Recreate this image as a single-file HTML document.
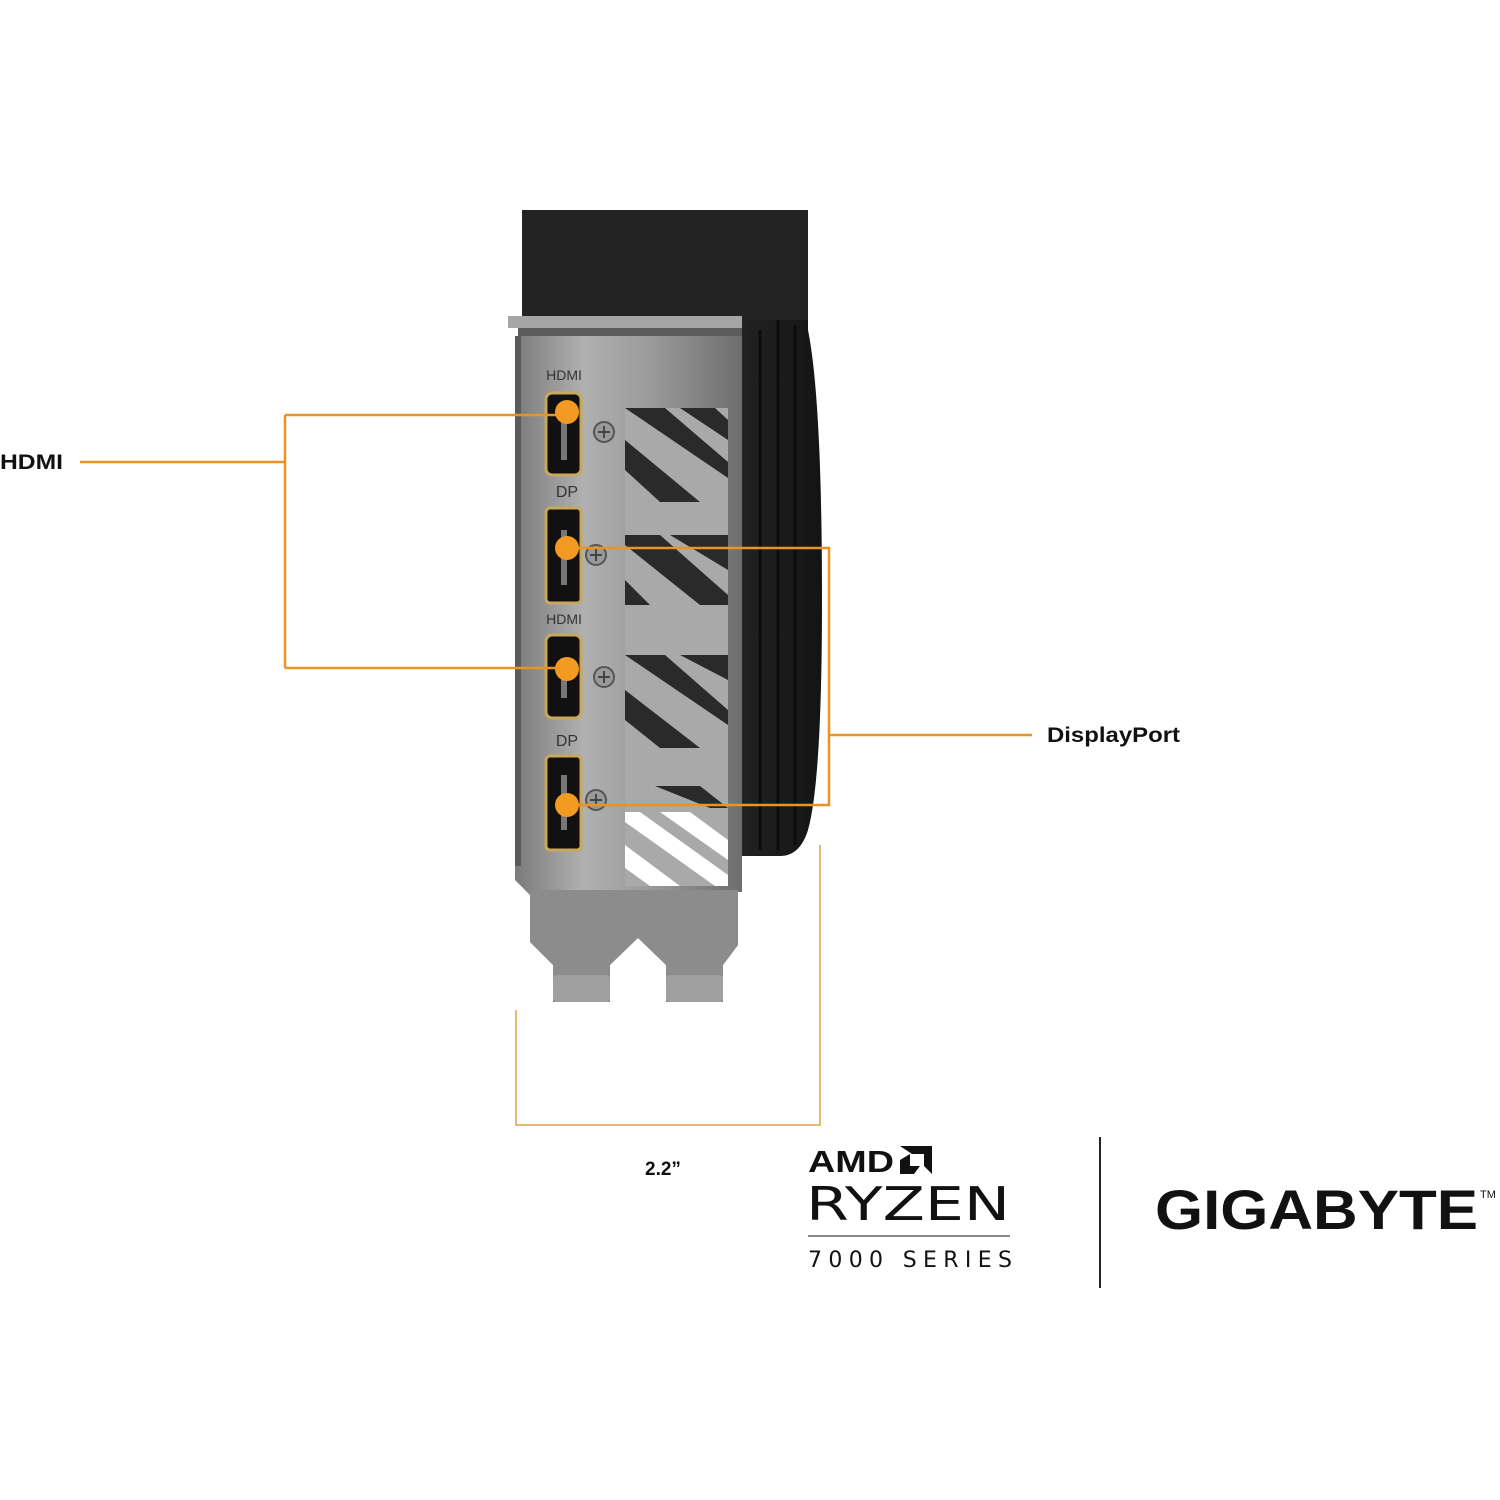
<!DOCTYPE html>
<html><head><meta charset="utf-8"><style>
html,body{margin:0;padding:0;background:#fff;}
body{width:1500px;height:1500px;overflow:hidden;position:relative;font-family:"Liberation Sans",sans-serif;}
</style></head><body>
<svg width="1500" height="1500" viewBox="0 0 1500 1500" xmlns="http://www.w3.org/2000/svg" style="position:absolute;left:0;top:0">
<defs>
<linearGradient id="br" x1="0" y1="0" x2="1" y2="0">
<stop offset="0" stop-color="#7a7a7a"/><stop offset="0.3" stop-color="#b0b0b0"/><stop offset="0.6" stop-color="#9a9a9a"/><stop offset="1" stop-color="#6e6e6e"/></linearGradient>
<linearGradient id="bk" x1="0" y1="0" x2="1" y2="0">
<stop offset="0" stop-color="#1a1a1a"/><stop offset="0.5" stop-color="#2e2e2e"/><stop offset="1" stop-color="#141414"/></linearGradient>
<clipPath id="vent"><rect x="625" y="408" width="103" height="478"/></clipPath>
</defs>
<!-- black shroud -->
<path d="M522 210 H800 Q808 210 808 220 V330 Q822 400 822 600 Q822 780 808 830 Q800 856 780 856 H742 V318 H522 Z" fill="url(#bk)"/>
<rect x="522" y="210" width="286" height="110" fill="#232323"/>
<path d="M760 330 V850 M778 320 V850 M795 325 V845" stroke="#0c0c0c" stroke-width="3"/>
<!-- bracket top lip -->
<rect x="508" y="316" width="234" height="12" fill="#a5a5a5"/>
<rect x="518" y="328" width="224" height="8" fill="#5c5c5c"/>
<!-- bracket main -->
<path d="M515 336 H742 V892 H738 V945 L723 965 V1002 H666 V965 L638 938 L610 965 V1002 H553 V965 L530 942 V895 L515 880 Z" fill="url(#br)"/>
<path d="M530 890 H738 V945 L723 965 V1002 H666 V965 L638 938 L610 965 V1002 H553 V965 L530 942 Z" fill="#8c8c8c"/>
<rect x="553" y="975" width="57" height="27" rx="4" fill="#a0a0a0"/>
<rect x="666" y="975" width="57" height="27" rx="4" fill="#a0a0a0"/>
<rect x="515" y="336" width="6" height="530" fill="#5a5a5a"/>
<!-- vents -->
<g clip-path="url(#vent)">
<rect x="625" y="408" width="103" height="478" fill="#a9a9a9"/>
<g fill="#2a2a2a">
<path d="M625 408 L665 408 L728 462 L728 478 Z M680 408 L715 408 L728 420 L728 440Z M625 440 L700 502 L660 502 L625 470Z"/>
<path d="M625 535 L660 535 L728 595 L728 605 L700 605 L625 545Z M670 535 L728 535 L728 570Z M625 580 L650 605 L625 605Z"/>
<path d="M625 655 L665 655 L728 710 L728 725Z M680 655 L728 655 L728 680Z M625 690 L700 748 L660 748 L625 720Z"/>
</g>
<g fill="#ffffff">
<path d="M625 812 L640 812 L728 875 L728 886 L715 886 L625 822Z M660 812 L690 812 L728 840 L728 860Z M625 845 L680 886 L650 886 L625 868Z"/>
</g>
<g fill="#2a2a2a"><path d="M655 786 L700 786 L728 808 L710 808Z"/></g>
</g>
<!-- port labels -->
<g font-family="Liberation Sans,sans-serif" font-size="14" fill="#333" text-anchor="middle">
<text x="564" y="380">HDMI</text><text x="567" y="497" font-size="16">DP</text><text x="564" y="624">HDMI</text><text x="567" y="746" font-size="16">DP</text>
</g>
<!-- ports -->
<g stroke="#c9a85a" stroke-width="3" fill="#111">
<rect x="546" y="393" width="35" height="82" rx="6"/>
<rect x="546" y="508" width="35" height="95" rx="4"/>
<rect x="546" y="635" width="35" height="83" rx="6"/>
<rect x="546" y="756" width="35" height="94" rx="4"/>
</g>
<g fill="#777"><rect x="561" y="420" width="6" height="40"/><rect x="561" y="530" width="6" height="55"/><rect x="561" y="658" width="6" height="40"/><rect x="561" y="775" width="6" height="55"/></g>
<!-- screws -->
<g fill="#999" stroke="#555" stroke-width="2">
<circle cx="604" cy="432" r="10"/><circle cx="596" cy="555" r="10"/><circle cx="604" cy="677" r="10"/><circle cx="596" cy="800" r="10"/>
</g>
<g stroke="#444" stroke-width="2"><path d="M598 432h12M604 426v12M590 555h12M596 549v12M598 677h12M604 671v12M590 800h12M596 794v12"/></g>
<!-- callout lines -->
<g stroke="#ec9222" stroke-width="2.5" fill="none">
<path d="M80 462 H285 M285 415 V668 M285 415 H567 M285 668 H567"/>
<path d="M567 548 H829 V805 H567 M829 735 H1032"/>
</g>
<g fill="#f39a22"><circle cx="567" cy="412" r="12"/><circle cx="567" cy="548" r="12"/><circle cx="567" cy="669" r="12"/><circle cx="567" cy="805" r="12"/></g>
<!-- dimension -->
<g stroke="#dca449" stroke-width="1.5" fill="none"><path d="M516 1010 V1125 H820 V845"/></g>
<g font-family="Liberation Sans,sans-serif" font-weight="bold" fill="#111">
<text x="0" y="469" font-size="21" textLength="63" lengthAdjust="spacingAndGlyphs">HDMI</text>
<text x="1047" y="742" font-size="21" textLength="133" lengthAdjust="spacingAndGlyphs">DisplayPort</text>
<text x="645" y="1175" font-size="19">2.2”</text>
<text x="808" y="1172" font-size="31" textLength="86" lengthAdjust="spacingAndGlyphs">AMD</text>
<path d="M900 1146 h32 v28 l-8 -8 v-12 h-12z M900 1160 l10 -6 v12 h10 l-6 8 h-14z" fill="#111"/>
<text x="806" y="1220" font-size="46" font-weight="normal" textLength="204" lengthAdjust="spacingAndGlyphs" style="font-family:'DejaVu Sans',sans-serif">RYZEN</text>
<text x="1155" y="1229" font-size="56" textLength="323" lengthAdjust="spacingAndGlyphs">GIGABYTE</text>
<text x="1480" y="1198" font-size="11" font-weight="normal">TM</text>
<text x="808" y="1267" font-size="22" font-weight="normal" textLength="204" lengthAdjust="spacing" style="font-family:'DejaVu Sans',sans-serif">7000 SERIES</text>
</g>
<rect x="808" y="1235" width="202" height="2" fill="#888"/>
<rect x="1099" y="1137" width="2" height="151" fill="#222"/>
</svg>
</body></html>
